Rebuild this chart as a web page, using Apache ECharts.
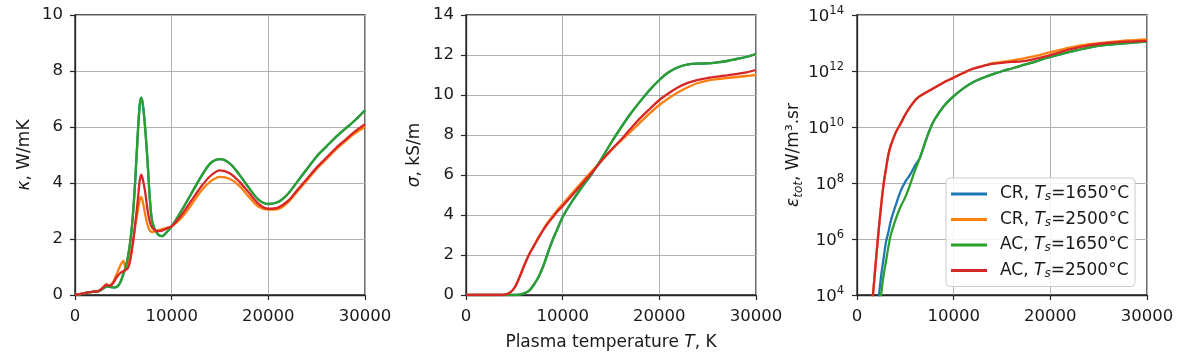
<!DOCTYPE html>
<html>
<head>
<meta charset="utf-8">
<script src="https://cdn.jsdelivr.net/npm/echarts@6/dist/echarts.min.js"></script>
<style>
html,body{margin:0;padding:0;background:#fff;}
#chart{width:1181px;height:361px;}
</style>
</head>
<body>
<div id="chart"></div>
<script>
// ---------- DATA ----------
const seriesNames = ['CR, Ts=1650°C', 'CR, Ts=2500°C', 'AC, Ts=1650°C', 'AC, Ts=2500°C'];
const legendParts = [['CR, ', '=1650°C'], ['CR, ', '=2500°C'], ['AC, ', '=1650°C'], ['AC, ', '=2500°C']];
const xTicks = [0, 10000, 20000, 30000];

// Panel 1: thermal conductivity kappa (W/mK)
const kappaT = [0,500,1000,1500,2000,2500,3000,3250,3500,3750,4000,4250,4500,4750,5000,5250,5500,5750,6000,6250,6500,6700,6850,7000,7250,7500,7750,8000,8500,9000,9500,10000,11000,12000,13000,14000,15000,16000,17000,18000,19000,20000,21000,22000,23000,24000,25000,26000,27000,28000,29000,30000];
const kappaCR1650 = [0,0.02,0.06,0.1,0.12,0.15,0.25,0.3,0.3,0.28,0.27,0.28,0.35,0.5,0.75,1.0,1.4,2.0,2.9,4.2,5.8,6.8,7.05,6.85,6.0,4.8,3.4,2.6,2.2,2.1,2.25,2.45,3.0,3.6,4.2,4.7,4.85,4.7,4.3,3.82,3.4,3.25,3.32,3.6,4.05,4.5,4.95,5.3,5.65,5.95,6.25,6.6];
const kappaCR2500 = [0,0.03,0.07,0.1,0.12,0.15,0.3,0.38,0.33,0.38,0.5,0.7,0.9,1.1,1.22,0.95,1.05,1.4,1.9,2.5,3.0,3.4,3.5,3.35,2.9,2.5,2.3,2.25,2.3,2.35,2.4,2.45,2.75,3.2,3.7,4.05,4.22,4.15,3.9,3.5,3.15,3.05,3.07,3.3,3.7,4.1,4.5,4.85,5.2,5.5,5.78,6.0];
const kappaAC1650 = [0,0.02,0.06,0.1,0.12,0.15,0.25,0.3,0.3,0.28,0.27,0.28,0.35,0.5,0.75,1.0,1.4,2.0,2.9,4.2,5.8,6.8,7.05,6.85,6.0,4.8,3.4,2.6,2.2,2.1,2.25,2.45,3.0,3.6,4.2,4.7,4.85,4.7,4.3,3.82,3.4,3.25,3.32,3.6,4.05,4.5,4.95,5.3,5.65,5.95,6.25,6.6];
const kappaAC2500 = [0,0.03,0.07,0.1,0.12,0.15,0.3,0.38,0.33,0.35,0.45,0.6,0.72,0.8,0.85,0.9,0.97,1.3,1.9,2.6,3.4,4.1,4.3,4.15,3.7,3.05,2.6,2.4,2.28,2.3,2.38,2.45,2.85,3.35,3.85,4.25,4.45,4.35,4.05,3.65,3.25,3.08,3.12,3.35,3.75,4.15,4.55,4.9,5.25,5.55,5.85,6.1];
const kappaTicks = [0, 2, 4, 6, 8, 10];

// Panel 2: electrical conductivity sigma (kS/m)
const sigmaT = [0,1000,2000,3000,4000,4500,5000,5500,6000,6500,7000,7500,8000,8500,9000,9500,10000,11000,12000,13000,14000,15000,16000,17000,18000,19000,20000,21000,22000,23000,24000,25000,26000,27000,28000,29000,30000];
const sigmaCR1650 = [0,0,0,0,0,0,0,0.02,0.08,0.2,0.5,0.9,1.45,2.15,2.8,3.35,3.9,4.7,5.4,6.05,6.8,7.6,8.35,9.05,9.67,10.25,10.75,11.15,11.4,11.53,11.57,11.58,11.63,11.7,11.8,11.9,12.05];
const sigmaCR2500 = [0,0,0,0,0.02,0.1,0.35,0.85,1.45,2.0,2.45,2.9,3.3,3.65,3.98,4.28,4.55,5.1,5.65,6.18,6.7,7.22,7.7,8.15,8.62,9.08,9.5,9.85,10.15,10.4,10.6,10.72,10.79,10.85,10.9,10.95,11.0];
const sigmaAC1650 = [0,0,0,0,0,0,0,0.02,0.08,0.2,0.5,0.9,1.45,2.15,2.8,3.35,3.9,4.7,5.4,6.05,6.8,7.6,8.35,9.05,9.67,10.25,10.75,11.15,11.4,11.53,11.57,11.58,11.63,11.7,11.8,11.9,12.05];
const sigmaAC2500 = [0,0,0,0,0.02,0.1,0.35,0.85,1.45,2.0,2.43,2.85,3.25,3.6,3.9,4.2,4.45,5.0,5.55,6.1,6.7,7.25,7.75,8.3,8.83,9.3,9.75,10.1,10.4,10.62,10.76,10.85,10.92,10.98,11.05,11.13,11.25];
const sigmaTicks = [0, 2, 4, 6, 8, 10, 12, 14];

// Panel 3: total emission coefficient eps_tot (W/m3.sr), log scale
const epsT = [1000,1500,1750,2000,2250,2500,2750,3000,3250,3500,4000,4500,5000,5500,6000,6500,7000,7500,8000,9000,10000,11000,12000,13000,14000,15000,16000,17000,18000,19000,20000,22000,24000,26000,28000,30000];
const epsCR1650 = [1,20,150,900,7.9e3,5.0e4,2.0e5,7.9e5,1.78e6,4.5e6,1.58e7,5.0e7,1.12e8,2.0e8,4.2e8,7.9e8,2.5e9,7.6e9,1.78e10,5.6e10,1.26e11,2.4e11,4.0e11,5.6e11,7.6e11,9.8e11,1.23e12,1.55e12,1.95e12,2.5e12,3.16e12,4.8e12,6.9e12,8.7e12,1.0e13,1.12e13];
const epsCR2500 = [32,2.5e3,2.5e4,2.5e5,2.2e6,1.6e7,8.9e7,3.2e8,1.05e9,2.2e9,6.3e9,1.3e10,2.8e10,5.2e10,8.9e10,1.26e11,1.6e11,2.0e11,2.5e11,4.0e11,5.8e11,8.5e11,1.2e12,1.5e12,1.9e12,2.1e12,2.35e12,2.7e12,3.2e12,3.8e12,4.7e12,6.9e12,9.1e12,1.07e13,1.23e13,1.35e13];
const epsAC1650 = [3,20,80,316,2000,1.07e4,5.0e4,1.6e5,5.25e5,1.41e6,5.0e6,1.41e7,3.16e7,8.9e7,2.8e8,7.9e8,2.5e9,7.6e9,1.78e10,5.6e10,1.26e11,2.4e11,4.0e11,5.6e11,7.6e11,9.8e11,1.23e12,1.55e12,1.95e12,2.5e12,3.16e12,4.8e12,6.9e12,8.7e12,1.0e13,1.12e13];
const epsAC2500 = [32,2.5e3,2.5e4,2.5e5,2.2e6,1.6e7,8.9e7,3.2e8,1.05e9,2.2e9,6.3e9,1.3e10,2.8e10,5.2e10,8.9e10,1.26e11,1.6e11,2.0e11,2.5e11,4.0e11,5.8e11,8.5e11,1.2e12,1.5e12,1.8e12,1.95e12,2.1e12,2.2e12,2.5e12,3.0e12,3.7e12,5.9e12,8.3e12,1.0e13,1.12e13,1.2e13];
const epsTicksExp = [4, 6, 8, 10, 12, 14];

// ---------- STYLE ----------
const colors = ['#1f77b4', '#ff7f0e', '#2ca02c', '#d62728'];
const FONT = 'DejaVu Sans';
const TXT = '#1a1a1a';
const FRAME = '#262626';

function pairs(xs, ys) { return xs.map((x, i) => [x, ys[i]]); }

const panels = [
  { T: kappaT, ys: [kappaCR1650, kappaCR2500, kappaAC1650, kappaAC2500] },
  { T: sigmaT, ys: [sigmaCR1650, sigmaCR2500, sigmaAC1650, sigmaAC2500] },
  { T: epsT, ys: [epsCR1650, epsCR2500, epsAC1650, epsAC2500] }
];

const gridLefts = [75, 466, 857];
const grids = gridLefts.map(l => ({
  left: l, width: 290, top: 15, height: 280,
  show: true, borderColor: FRAME, borderWidth: 1.3, backgroundColor: 'transparent'
}));

const axisLineStyle = { show: true, lineStyle: { color: FRAME, width: 1.3 } };
const tickStyle = { show: true, inside: false, length: 5, lineStyle: { color: FRAME, width: 1.2 } };
const splitStyle = { show: true, lineStyle: { color: '#b0b0b0', width: 1 } };
const labelBase = { color: TXT, fontFamily: FONT, fontSize: 16.5 };

const xAxes = [0, 1, 2].map(i => ({
  type: 'value', gridIndex: i, min: xTicks[0], max: xTicks[xTicks.length - 1], interval: 10000,
  axisLine: axisLineStyle, axisTick: tickStyle, splitLine: splitStyle,
  axisLabel: Object.assign({ margin: 13, showMaxLabel: true, showMinLabel: true, hideOverlap: false,
    formatter: v => String(v) }, labelBase),
  name: i === 1 ? '{n|Plasma temperature }{i|T}{n|, K}' : '',
  nameLocation: 'middle', nameGap: 39,
  nameTextStyle: {
    rich: {
      n: { fontFamily: FONT, fontSize: 17, color: TXT },
      i: { fontFamily: FONT, fontSize: 17, color: TXT, fontStyle: 'italic' }
    }
  }
}));

const nameRich = {
  n: { fontFamily: FONT, fontSize: 17, color: TXT, lineHeight: 22 },
  i: { fontFamily: FONT, fontSize: 17, color: TXT, fontStyle: 'italic', lineHeight: 22 },
  sub: { fontFamily: FONT, fontSize: 12, color: TXT, fontStyle: 'italic', verticalAlign: 'bottom', lineHeight: 22, padding: [8, 0, 0, 0] }
};

const yAxes = [
  {
    type: 'value', gridIndex: 0, min: kappaTicks[0], max: kappaTicks[kappaTicks.length - 1], interval: 2,
    axisLine: axisLineStyle, axisTick: tickStyle, splitLine: splitStyle,
    axisLabel: Object.assign({ margin: 12 }, labelBase),
    name: '{i|κ}{n|, W/mK}', nameLocation: 'middle', nameGap: 39, nameRotate: 90,
    nameTextStyle: { rich: nameRich }
  },
  {
    type: 'value', gridIndex: 1, min: sigmaTicks[0], max: sigmaTicks[sigmaTicks.length - 1], interval: 2,
    axisLine: axisLineStyle, axisTick: tickStyle, splitLine: splitStyle,
    axisLabel: Object.assign({ margin: 12 }, labelBase),
    name: '{i|σ}{n|, kS/m}', nameLocation: 'middle', nameGap: 40, nameRotate: 90,
    nameTextStyle: { rich: nameRich }
  },
  {
    type: 'log', logBase: 10, gridIndex: 2,
    min: Math.pow(10, epsTicksExp[0]), max: Math.pow(10, epsTicksExp[epsTicksExp.length - 1]), interval: 2,
    axisLine: axisLineStyle, axisTick: tickStyle, splitLine: splitStyle,
    minorTick: { show: false },
    axisLabel: Object.assign({
      margin: 13,
      formatter: v => '{b|10}{sup|' + Math.round(Math.log10(v)) + '}',
      rich: {
        b: { fontFamily: FONT, fontSize: 16.5, color: TXT, lineHeight: 20, verticalAlign: 'bottom' },
        sup: { fontFamily: FONT, fontSize: 11.5, color: TXT, lineHeight: 20, verticalAlign: 'top', padding: [0, 0, 8, 0] }
      }
    }, labelBase),
    name: '{i|ε}{sub|tot}{n|, W/m³.sr}', nameLocation: 'middle', nameGap: 50, nameRotate: 90,
    nameTextStyle: { rich: nameRich }
  }
];

const series = [];
panels.forEach((p, gi) => {
  p.ys.forEach((ys, si) => {
    series.push({
      name: seriesNames[si], type: 'line', xAxisIndex: gi, yAxisIndex: gi,
      data: pairs(p.T, ys), showSymbol: false, symbol: 'none',
      smooth: 0.3, clip: true,
      lineStyle: { color: colors[si], width: 2.3 },
      itemStyle: { color: colors[si] },
      z: 2 + si, animation: false
    });
  });
});

const option = {
  animation: false,
  color: colors,
  grid: grids,
  xAxis: xAxes,
  yAxis: yAxes,
  legend: {
    data: seriesNames.map(n => ({ name: n, icon: 'rect' })),
    orient: 'vertical', left: 946, top: 178,
    itemWidth: 36, itemHeight: 3, itemGap: 7.5,
    padding: [7, 6, 7, 5],
    backgroundColor: 'rgba(255,255,255,0.85)', borderColor: '#cccccc', borderWidth: 1, borderRadius: 4,
    selectedMode: false,
    formatter: name => {
      const k = seriesNames.indexOf(name);
      return '{n|' + legendParts[k][0] + '}{i|T}{s|s}{n|' + legendParts[k][1] + '}';
    },
    textStyle: {
      color: TXT, fontFamily: FONT, fontSize: 17, padding: [0, 0, 0, 8],
      rich: {
        n: { fontFamily: FONT, fontSize: 17, color: TXT, lineHeight: 18 },
        i: { fontFamily: FONT, fontSize: 17, color: TXT, fontStyle: 'italic', lineHeight: 18 },
        s: { fontFamily: FONT, fontSize: 12, color: TXT, fontStyle: 'italic', lineHeight: 18, verticalAlign: 'bottom', padding: [6, 0, 0, 0] }
      }
    }
  },
  series: series
};

const chart = echarts.init(document.getElementById('chart'), null, { renderer: 'canvas' });
chart.setOption(option);
</script>
</body>
</html>
